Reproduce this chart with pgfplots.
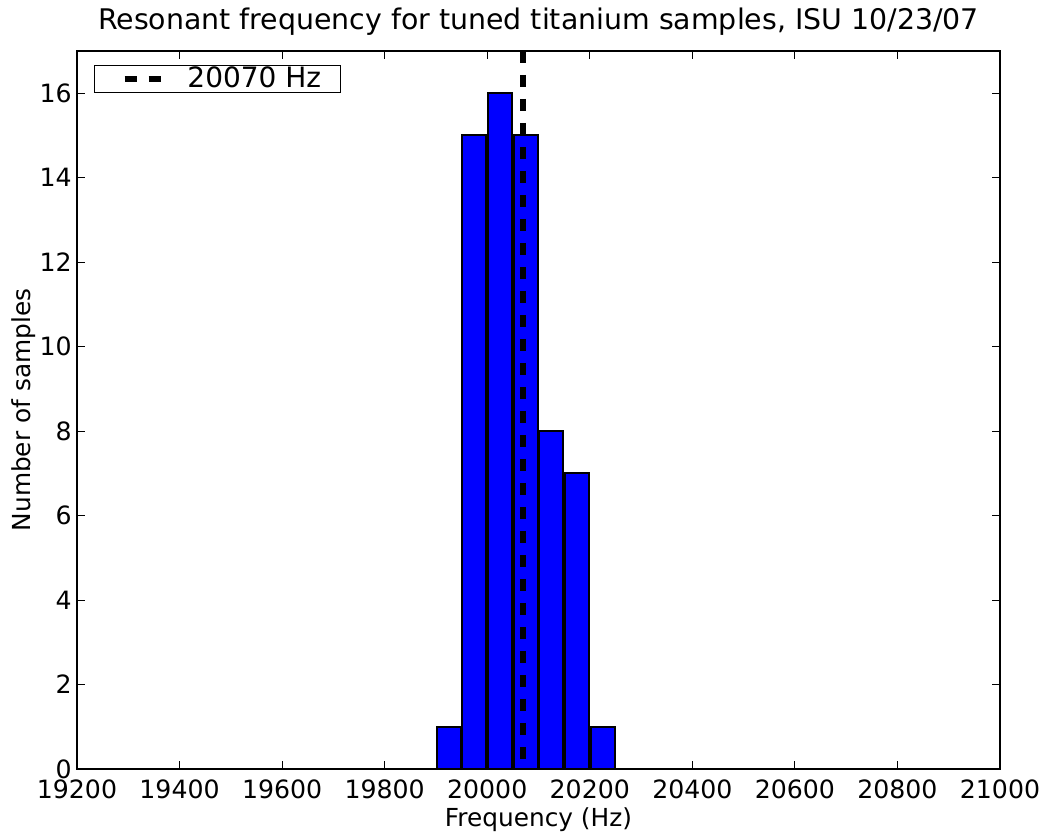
\documentclass[border=0pt]{standalone}
\usepackage{pgfplots}
\pgfplotsset{compat=1.18}
\usepackage{fontspec}
\setmainfont{DejaVu Sans}

\pgfplotstableread{
freq count
19925 1
19975 15
20025 16
20075 15
20125 8
20175 7
20225 1
}\histdata

\begin{document}
\begin{tikzpicture}
\begin{axis}[
  name=hist,
  scale only axis,
  width=461.5pt, height=359pt,
  xmin=19200, xmax=21000,
  ymin=0, ymax=17,
  xtick={19200,19400,...,21000},
  ytick={0,2,...,16},
  scaled ticks=false,
  /pgf/number format/assume math mode=true,
  /pgf/number format/.cd, 1000 sep={}, /pgfplots/.cd,
  tick align=inside,
  xtick pos=both, ytick pos=both,
  xticklabel pos=bottom, yticklabel pos=left,
  major tick length=4pt,
  tick style={black, line width=0.5pt},
  axis line style={line width=1pt},
  ticklabel style={font=\fontsize{12.6}{14}\selectfont},
  xticklabel style={inner sep=0pt, yshift=-5pt},
  yticklabel style={inner sep=0pt, xshift=-2.5pt},
  xlabel={Frequency (Hz)},
  ylabel={Number of samples},
  label style={font=\fontsize{12.4}{14}\selectfont},
  xlabel style={at={([yshift=-19pt]axis description cs:0.5,0)},
    anchor=north, inner sep=0pt},
  ylabel style={at={([xshift=-20.5pt]axis description cs:0,0.5)},
    anchor=south, inner sep=0pt},
  title={Resonant frequency for tuned titanium samples, ISU 10/23/07},
  title style={font=\fontsize{14.2}{16}\selectfont,
    at={([yshift=4.5pt]axis description cs:0.5,1)}, anchor=base,
    inner sep=0pt},
  legend style={at={(0.0195,0.98)}, anchor=north west,
    font=\fontsize{14}{15}\selectfont, draw=black, line width=0.5pt,
    inner sep=0pt, outer sep=0pt, row sep=0pt,
    nodes={inner xsep=0pt, inner ysep=0.8pt}},
  legend cell align=left,
  legend image code/.code={
    \draw[#1, line width=2.75pt, dash pattern=on 6pt off 6pt]
      (0pt,0pt) -- (18pt,0pt);
    \path (-13.5pt,0pt) (30pt,0pt);},
]
\addplot[ybar, bar width=47, bar shift=0pt, fill={rgb,1:red,0;green,0;blue,1},
  draw=black, line width=1pt, forget plot] table[x=freq, y=count] {\histdata};
\addplot[black, line width=2.75pt, dash pattern=on 6pt off 6pt]
  coordinates {(20070,17) (20070,0)};
\addlegendentry{20070 Hz\kern9.5pt\mbox{}}
\end{axis}
% page frame around the axis
\pgfresetboundingbox
\path[use as bounding box]
  ([shift={(-38.5pt,-32pt)}]hist.south west) rectangle
  ([shift={(22pt,25.5pt)}]hist.north east);
\end{tikzpicture}
\end{document}
